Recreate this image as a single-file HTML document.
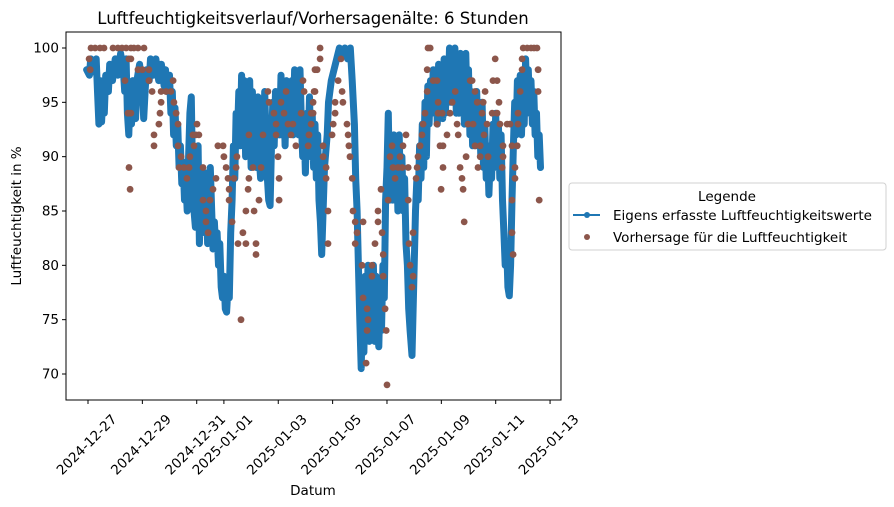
<!DOCTYPE html>
<html><head><meta charset="utf-8">
<style>
html,body{margin:0;padding:0;background:#fff;}
svg{display:block;font-family:"DejaVu Sans","Liberation Sans",sans-serif;}
</style></head>
<body>
<svg id="chart" width="894" height="507" viewBox="0 0 894 507" xmlns="http://www.w3.org/2000/svg">
<rect width="894" height="507" fill="#fff"/>
<text x="313" y="24" font-size="16.5" text-anchor="middle" fill="#000">Luftfeuchtigkeitsverlauf/Vorhersagenälte: 6 Stunden</text>
<defs><clipPath id="plotclip"><rect x="66" y="32" width="495" height="368"/></clipPath></defs>
<g id="marks" clip-path="url(#plotclip)"></g>
<rect x="66" y="32" width="495" height="368" fill="none" stroke="#000" stroke-width="1"/>
<g id="axes"></g>
<text transform="translate(21,216) rotate(-90)" font-size="13.5" text-anchor="middle">Luftfeuchtigkeit in %</text>
<text x="313" y="495" font-size="13.5" text-anchor="middle">Datum</text>
<g>
<rect x="569" y="183" width="317" height="67" rx="3" fill="#fff" stroke="#d0d0d0" stroke-width="1"/>
<text x="727" y="201" font-size="13.5" text-anchor="middle">Legende</text>
<g>
<line x1="573" y1="215" x2="600" y2="215" stroke="#1f77b4" stroke-width="2"/>
<circle cx="587" cy="215" r="3" fill="#1f77b4"/>
<text x="613" y="220" font-size="13.5">Eigens erfasste Luftfeuchtigkeitswerte</text>
</g>
<g>
<circle cx="587" cy="237" r="3" fill="#8c564b"/>
<text x="613" y="242" font-size="13.5">Vorhersage für die Luftfeuchtigkeit</text>
</g>
</g>
</svg>
<script>
const yTicks=[70,75,80,85,90,95,100];
const xTickDays=[0,2,4,5,7,9,11,13,15,17];
const xTickLabels=["2024-12-27","2024-12-29","2024-12-31","2025-01-01","2025-01-03","2025-01-05","2025-01-07","2025-01-09","2025-01-11","2025-01-13"];
// measured: [day since 2024-12-27, humidity %]
const measured=[[-0.05,98],[0.05,97.5],[0.1,99],[0.2,97.8],[0.3,99],[0.35,96],[0.4,93],[0.45,97],[0.5,93.2],[0.55,96],[0.6,94],[0.65,97.5],[0.75,96],[0.8,98.5],[0.9,97],[1.0,99],[1.1,97.5],[1.2,99.5],[1.3,98],[1.35,96],[1.4,99],[1.45,94],[1.5,92],[1.55,96],[1.6,93],[1.65,97],[1.7,95],[1.75,93.5],[1.8,97],[1.9,98.5],[2.0,96],[2.05,93.5],[2.1,96],[2.15,98],[2.25,97],[2.3,99],[2.4,97.5],[2.5,99],[2.6,97],[2.7,98.5],[2.8,96.5],[2.85,98],[2.9,96],[3.0,97.5],[3.05,94],[3.1,96],[3.15,92],[3.2,94.5],[3.25,91],[3.3,93],[3.35,89],[3.4,91],[3.45,87.5],[3.5,89.5],[3.55,86],[3.6,88],[3.65,85],[3.7,90],[3.75,94],[3.8,95.5],[3.85,88],[3.9,85],[3.95,83.5],[4.0,87],[4.05,91],[4.1,82],[4.15,86],[4.2,83],[4.25,88.5],[4.3,84],[4.35,88.5],[4.4,82],[4.45,86],[4.5,89],[4.55,85],[4.6,81.5],[4.65,84],[4.7,81.5],[4.75,83],[4.8,80],[4.85,82],[4.9,78],[4.95,77],[5.0,79],[5.05,76],[5.1,75.7],[5.15,78],[5.2,77],[5.25,83],[5.3,86],[5.35,91],[5.4,88],[5.45,94],[5.5,92],[5.55,96],[5.6,91],[5.65,97.5],[5.7,93],[5.75,97],[5.8,90],[5.85,96],[5.9,92],[5.95,97],[6.0,89],[6.05,96],[6.1,90],[6.15,95],[6.2,89],[6.25,95.5],[6.3,90],[6.35,88],[6.4,94],[6.45,90],[6.5,96],[6.55,92],[6.6,88],[6.65,86],[6.7,85.5],[6.75,91],[6.8,95],[6.85,91],[6.9,96],[6.95,92],[7.0,96],[7.05,92],[7.1,97.5],[7.15,92],[7.2,96],[7.25,91],[7.3,97],[7.35,92],[7.4,96],[7.45,93],[7.5,97],[7.55,92],[7.6,98],[7.65,93],[7.7,97],[7.75,92],[7.8,98],[7.85,93],[7.9,90],[7.95,93],[8.0,88.5],[8.05,94],[8.1,91],[8.15,95.5],[8.2,90],[8.25,94],[8.3,89],[8.35,93],[8.4,88],[8.45,92],[8.5,86],[8.55,84],[8.6,81],[8.65,85],[8.7,89],[8.8,92],[8.85,95],[8.95,97],[9.05,98],[9.15,99],[9.25,100],[9.35,99.5],[9.45,100],[9.55,99],[9.65,100],[9.72,97],[9.8,93],[9.85,88],[9.9,85],[9.95,80],[10.0,75],[10.05,70.5],[10.1,76],[10.15,72],[10.2,79],[10.25,74],[10.3,80],[10.35,73],[10.4,79],[10.45,74],[10.5,80],[10.55,73],[10.6,79],[10.65,74],[10.7,72.5],[10.75,78],[10.8,74],[10.85,80],[10.9,77],[10.95,86],[11.0,89],[11.05,94],[11.1,86],[11.15,91],[11.2,86],[11.25,92],[11.3,86],[11.35,91],[11.4,85],[11.45,92],[11.5,86],[11.55,90],[11.6,85],[11.65,88],[11.7,82],[11.75,80],[11.8,76],[11.85,74],[11.92,71.7],[12.0,80],[12.05,85],[12.1,88],[12.15,86],[12.2,91],[12.25,88],[12.3,93],[12.35,89],[12.4,95],[12.45,90],[12.5,96.5],[12.55,93],[12.6,97],[12.65,94],[12.7,98],[12.75,94],[12.8,98],[12.85,93],[12.9,98.5],[12.95,94],[13.0,98],[13.05,93.5],[13.1,99],[13.15,94],[13.2,98],[13.25,95],[13.3,100],[13.35,95],[13.4,99],[13.45,95],[13.5,100],[13.55,94],[13.6,99],[13.65,94],[13.7,99.5],[13.75,94],[13.8,99],[13.85,93],[13.9,99.5],[13.95,94],[14.0,98],[14.05,92],[14.1,96],[14.15,91],[14.2,95.5],[14.25,91],[14.3,96],[14.35,91],[14.4,95],[14.45,90],[14.5,95],[14.55,89],[14.6,93],[14.65,88],[14.7,91],[14.75,86.5],[14.8,90],[14.85,88],[14.9,93],[14.95,89],[15.0,94],[15.05,89],[15.1,93],[15.15,88],[15.2,92],[15.25,86],[15.3,83],[15.35,80],[15.4,82],[15.45,78],[15.5,77.2],[15.55,80],[15.6,86],[15.65,91],[15.7,95],[15.75,92],[15.8,97],[15.85,93],[15.9,97.5],[15.95,92],[16.0,97],[16.05,93],[16.1,99],[16.15,95],[16.2,98],[16.25,94],[16.3,97],[16.35,93],[16.4,96],[16.45,92],[16.5,94],[16.55,90],[16.6,92],[16.65,89]];
// forecast: [day, humidity %]
const forecast=[[0.04,99],[0.08,98],[0.11,100],[0.26,100],[0.44,100],[0.59,100],[0.92,100],[1.10,100],[1.25,100],[1.40,100],[1.58,100],[1.69,100],[1.84,100],[2.06,100],[1.58,99],[1.50,99],[1.84,98],[2.00,98],[2.24,98],[1.36,97],[1.47,94],[1.58,94],[1.51,89],[1.55,87],[2.24,97],[2.36,96],[2.69,96],[2.87,96],[3.05,96],[3.13,97],[2.69,95],[2.65,94],[2.61,93],[2.43,92],[2.43,91],[3.16,95],[3.24,94],[3.31,93],[3.31,91],[3.42,90],[3.35,89],[3.53,89],[3.72,89],[3.75,90],[3.64,88],[3.86,92],[3.97,92],[4.08,92],[3.90,91],[4.01,93],[4.23,89],[4.23,86],[4.34,85],[4.34,84],[4.42,83],[4.49,86],[4.60,87],[4.71,88],[4.78,91],[4.97,91],[5.00,90],[5.08,89],[5.15,88],[5.19,87],[5.19,86],[5.30,84],[5.37,88],[5.45,89],[5.48,90],[5.52,82],[5.70,83],[5.81,82],[5.63,75],[5.81,85],[5.89,87],[5.92,88],[5.92,92],[6.07,89],[6.11,85],[6.18,82],[6.18,81],[6.29,86],[6.37,89],[6.44,92],[6.62,96],[6.66,95],[6.84,94],[6.92,93],[6.92,92],[6.99,90],[7.03,88],[7.03,86],[7.10,95],[7.21,94],[7.29,96],[7.36,93],[7.47,92],[7.54,93],[7.65,91],[7.84,94],[7.91,97],[7.95,96],[8.10,91],[8.13,92],[8.21,93],[8.28,94],[8.35,98],[8.32,96],[8.54,100],[8.54,99],[8.43,98],[8.35,96],[8.28,95],[8.21,94],[8.13,92],[8.65,91],[8.65,90],[8.76,89],[8.76,88],[8.83,85],[8.83,82],[8.98,92],[9.02,93],[9.09,94],[9.09,95],[9.20,97],[9.31,99],[9.35,96],[9.38,95],[9.53,93],[9.57,92],[9.60,91],[9.64,90],[9.72,88],[9.75,85],[9.83,84],[9.90,83],[9.83,82],[10.08,80],[10.12,77],[10.27,76],[10.30,75],[10.27,74],[10.23,71],[10.12,84],[10.45,80],[10.45,79],[10.56,82],[10.67,85],[10.67,84],[10.78,87],[10.82,83],[10.86,81],[10.86,79],[10.93,76],[10.97,74],[11.00,69],[11.04,86],[11.11,90],[11.19,91],[11.22,89],[11.41,89],[11.56,89],[11.30,88],[11.48,90],[11.59,91],[11.70,92],[11.78,89],[11.78,86],[11.81,82],[11.85,80],[11.96,79],[11.92,78],[11.96,83],[12.07,88],[12.11,89],[12.14,90],[12.22,91],[12.29,92],[12.33,93],[12.40,94],[12.48,96],[12.48,98],[12.51,100],[12.59,100],[12.70,97],[12.84,97],[12.88,95],[12.88,94],[12.84,93],[13.03,94],[12.95,91],[13.06,91],[13.06,89],[12.99,87],[13.21,92],[13.32,94],[13.40,95],[13.51,96],[13.58,93],[13.62,92],[13.69,89],[13.76,88],[13.80,87],[13.84,84],[13.91,90],[13.98,93],[14.06,97],[14.13,97],[14.17,93],[14.24,96],[14.32,95],[14.24,91],[14.43,91],[14.35,89],[14.43,90],[14.50,94],[14.54,95],[14.61,96],[14.57,92],[14.68,93],[14.72,90],[14.87,94],[14.90,97],[14.98,99],[15.05,97],[15.05,94],[15.12,95],[15.16,93],[15.24,89],[15.27,90],[15.27,91],[15.42,93],[15.53,93],[15.60,91],[15.60,86],[15.60,83],[15.64,81],[15.71,88],[15.71,89],[15.79,91],[15.82,94],[15.82,93],[15.90,96],[15.97,98],[15.97,99],[16.01,100],[16.16,100],[16.30,100],[16.41,100],[16.52,100],[16.56,96],[16.56,98],[16.60,86]];

const NS="http://www.w3.org/2000/svg";
const X0=88, PXDAY=27.18, Y70=374, PXUNIT=10.867;
function xs(d){return X0+d*PXDAY;}
function ys(v){return Y70-(v-70)*PXUNIT;}
const marks=document.getElementById('marks');
const axes=document.getElementById('axes');

let dStr=measured.map((p,i)=>(i?'L':'M')+xs(p[0]).toFixed(1)+','+ys(p[1]).toFixed(1)).join('');
const line=document.createElementNS(NS,'path');


line.setAttribute('d',dStr);
line.setAttribute('fill','none');
line.setAttribute('stroke','#1f77b4');
line.setAttribute('stroke-width','7');
line.setAttribute('stroke-linejoin','round');
line.setAttribute('stroke-linecap','round');
marks.appendChild(line);

forecast.forEach(p=>{
  const c=document.createElementNS(NS,'circle');
  
  
  c.setAttribute('cx',xs(p[0]).toFixed(1));
  c.setAttribute('cy',ys(p[1]).toFixed(1));
  c.setAttribute('r','3.4');
  c.setAttribute('fill','#8c564b');
  marks.appendChild(c);
});

yTicks.forEach(v=>{
  const y=ys(v);
  const t=document.createElementNS(NS,'line');
  
  
  t.setAttribute('x1',62);t.setAttribute('x2',66);
  t.setAttribute('y1',y);t.setAttribute('y2',y);
  t.setAttribute('stroke','#000');
  axes.appendChild(t);
  const l=document.createElementNS(NS,'text');
  
  
  l.setAttribute('x',59);l.setAttribute('y',y+4.5);
  l.setAttribute('font-size','13.5');
  l.setAttribute('text-anchor','end');
  l.textContent=v;
  axes.appendChild(l);
});

xTickDays.forEach((d,i)=>{
  const x=xs(d);
  const t=document.createElementNS(NS,'line');
  
  
  t.setAttribute('x1',x);t.setAttribute('x2',x);
  t.setAttribute('y1',400);t.setAttribute('y2',404);
  t.setAttribute('stroke','#000');
  axes.appendChild(t);
  const l=document.createElementNS(NS,'text');
  
  
  l.setAttribute('transform','translate('+(x-1)+',445) rotate(-45)');
  l.setAttribute('font-size','13.5');
  l.setAttribute('text-anchor','middle');
  l.setAttribute('dominant-baseline','middle');
  l.textContent=xTickLabels[i];
  axes.appendChild(l);
});
</script>
</body></html>
